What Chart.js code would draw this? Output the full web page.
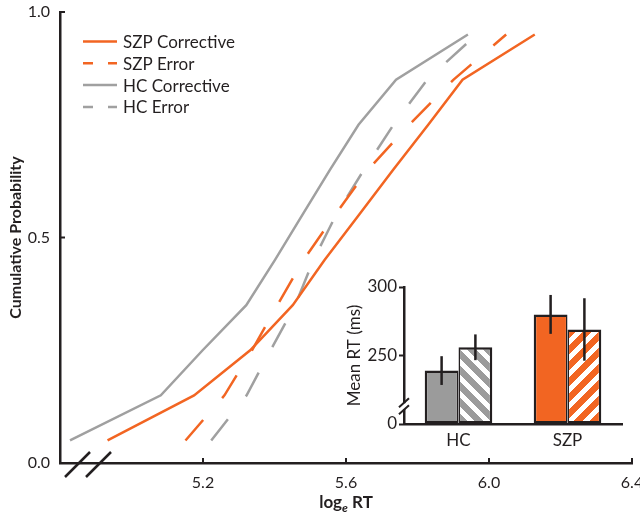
<!DOCTYPE html>
<html>
<head>
<meta charset="utf-8">
<title>Cumulative RT distributions</title>
<script src="https://cdn.jsdelivr.net/npm/chart.js@4.4.1/dist/chart.umd.min.js"></script>
<style>
  body { margin: 0; background: #fff; }
  #wrap { position: relative; width: 640px; height: 522px; }
  #mainChart { position: absolute; left: 0; top: 0; }
  #insetChart { position: absolute; left: 340px; top: 270px; }
</style>
</head>
<body>
<div id="wrap">
  <canvas id="mainChart" width="640" height="522"></canvas>
  <canvas id="insetChart" width="290" height="185"></canvas>
</div>
<script>
// cumulative probability levels
const probs = [0.05, 0.15, 0.25, 0.35, 0.45, 0.55, 0.65, 0.75, 0.85, 0.95];
// log_e RT at each level
const szpCorrective = [4.933, 5.175, 5.332, 5.451, 5.540, 5.636, 5.732, 5.830, 5.926, 6.128];
const szpError      = [5.151, 5.260, 5.337, 5.408, 5.481, 5.569, 5.661, 5.777, 5.901, 6.048];
const hcCorrective  = [4.828, 5.082, 5.199, 5.321, 5.401, 5.478, 5.555, 5.635, 5.740, 5.941];
const hcError       = [5.223, 5.322, 5.389, 5.458, 5.509, 5.572, 5.650, 5.733, 5.827, 5.965];

const xTicks = [5.2, 5.6, 6.0, 6.4];
const yTicks = [0, 0.5, 1.0];

// inset: mean RT in ms, with error bar half-lengths
const groups = ['HC', 'SZP'];
const correctiveRT  = [239, 280];
const correctiveErr = [10.5, 14.2];
const errorRT       = [256, 269];
const errorErr      = [9.4, 22.8];
// the axis is broken below 250, its bottom is labelled 0
const rtTicks = [200, 250, 300];
const rtTickLabels = ['0', '250', '300'];

const ORANGE = '#f26522';
const GRAY = '#a0a0a0';
const BAR_GRAY = '#9b9b9b';
const INK = '#231f20';
const FAMILY = 'Lato, "Open Sans", sans-serif';

// legend drawn inside the plot, top left
const insideLegend = {
  id: 'insideLegend',
  afterDraw(chart) {
    const ctx = chart.ctx;
    const a = chart.chartArea;
    ctx.save();
    ctx.font = '17px ' + FAMILY;
    ctx.textBaseline = 'middle';
    chart.data.datasets.forEach((ds, i) => {
      const y = a.top + 29.5 + i * 21.8;
      const x0 = a.left + 23;
      ctx.strokeStyle = ds.borderColor;
      ctx.lineWidth = 2.5;
      ctx.setLineDash(ds.borderDash.length ? [10, 15] : []);
      ctx.beginPath();
      ctx.moveTo(x0, y);
      ctx.lineTo(x0 + 34, y);
      ctx.stroke();
      ctx.setLineDash([]);
      ctx.fillStyle = INK;
      ctx.fillText(ds.label, x0 + 40, y + 1);
    });
    ctx.restore();
  }
};

// inward ticks, axis break and the x title with its subscript
const mainDecor = {
  id: 'mainDecor',
  afterDraw(chart) {
    const {ctx, chartArea: a, scales: {x, y}} = chart;
    const line = (x1, y1, x2, y2) => {
      ctx.beginPath(); ctx.moveTo(x1, y1); ctx.lineTo(x2, y2); ctx.stroke();
    };
    ctx.save();
    ctx.strokeStyle = INK;
    ctx.lineWidth = 2;
    x.ticks.forEach(t => { const px = x.getPixelForValue(t.value); line(px, a.bottom, px, a.bottom - 5); });
    y.ticks.forEach(t => { const py = y.getPixelForValue(t.value); line(a.left, py, a.left + 5, py); });

    ctx.lineWidth = 2.5;
    [0, 21].forEach(dx => line(a.left + 5 + dx, a.bottom + 14, a.left + 30 + dx, a.bottom - 11));

    const big = 'bold 17px ' + FAMILY;
    const sub = 'italic bold 12px ' + FAMILY;
    ctx.fillStyle = INK;
    ctx.textBaseline = 'alphabetic';
    ctx.font = big;
    const w1 = ctx.measureText('log').width;
    const w3 = ctx.measureText(' RT').width;
    ctx.font = sub;
    const w2 = ctx.measureText('e').width;
    let cx = (a.left + a.right) / 2 - (w1 + w2 + w3) / 2;
    const base = a.bottom + 45;
    ctx.font = big; ctx.fillText('log', cx, base); cx += w1;
    ctx.font = sub; ctx.fillText('e', cx, base + 4); cx += w2;
    ctx.font = big; ctx.fillText(' RT', cx, base);
    ctx.restore();
  }
};

const lineSets = [
  { label: 'SZP Corrective', values: szpCorrective, color: ORANGE, dash: [] },
  { label: 'SZP Error',      values: szpError,      color: ORANGE, dash: [27, 29] },
  { label: 'HC Corrective',  values: hcCorrective,  color: GRAY,   dash: [] },
  { label: 'HC Error',       values: hcError,       color: GRAY,   dash: [27, 29] }
];

new Chart(document.getElementById('mainChart'), {
  type: 'line',
  data: {
    datasets: lineSets.map(s => ({
      label: s.label,
      data: s.values.map((v, i) => ({ x: v, y: probs[i] })),
      borderColor: s.color,
      borderWidth: 2.5,
      borderDash: s.dash,
      borderCapStyle: 'butt',
      pointRadius: 0,
      tension: 0,
      fill: false
    }))
  },
  options: {
    responsive: false,
    animation: false,
    layout: { padding: { top: 12, right: 8, left: 0, bottom: 0 } },
    plugins: { legend: { display: false }, tooltip: { enabled: false } },
    scales: {
      x: {
        type: 'linear', min: 4.8, max: 6.4,
        grid: { display: false, drawTicks: false },
        border: { color: INK, width: 2.5 },
        afterBuildTicks: s => { s.ticks = xTicks.map(v => ({ value: v })); },
        afterFit: s => { s.height = 59; s.paddingLeft = 0; s.paddingRight = 0; },
        ticks: { padding: 10, color: INK, font: { family: FAMILY, size: 16 },
                 maxRotation: 0, autoSkip: false, callback: v => Number(v).toFixed(1) }
      },
      y: {
        min: 0, max: 1,
        grid: { display: false, drawTicks: false },
        border: { color: INK, width: 2.5 },
        afterBuildTicks: s => { s.ticks = yTicks.map(v => ({ value: v })); },
        afterFit: s => { s.width = 60; s.paddingTop = 0; s.paddingBottom = 0; },
        ticks: { padding: 10, color: INK, font: { family: FAMILY, size: 16 },
                 callback: v => Number(v).toFixed(1) },
        title: { display: true, text: 'Cumulative Probability', color: INK,
                 font: { family: FAMILY, size: 16, weight: 'bold' }, padding: { top: 6, bottom: 0 } }
      }
    }
  },
  plugins: [insideLegend, mainDecor]
});

// striped fill for the error bars, built pixel by pixel so the tile repeats cleanly
function hatch(color, dir) {
  const s = 16, w = 9;
  const c = document.createElement('canvas');
  c.width = s; c.height = s;
  const g = c.getContext('2d');
  g.fillStyle = '#fff';
  g.fillRect(0, 0, s, s);
  g.fillStyle = color;
  for (let py = 0; py < s; py++) {
    for (let px = 0; px < s; px++) {
      const d = dir > 0 ? (px + py) % s : ((px - py) % s + s) % s;
      if (d < w) g.fillRect(px, py, 1, 1);
    }
  }
  return g.createPattern(c, 'repeat');
}

const errorBars = {
  id: 'errorBars',
  afterDatasetsDraw(chart) {
    const {ctx, scales: {y}} = chart;
    ctx.save();
    ctx.strokeStyle = INK;
    ctx.lineWidth = 2.5;
    chart.data.datasets.forEach((ds, i) => {
      chart.getDatasetMeta(i).data.forEach((bar, j) => {
        const m = ds.data[j], e = ds.err[j];
        ctx.beginPath();
        ctx.moveTo(bar.x, y.getPixelForValue(m - e));
        ctx.lineTo(bar.x, y.getPixelForValue(m + e));
        ctx.stroke();
      });
    });
    ctx.restore();
  }
};

const insetBreak = {
  id: 'insetBreak',
  afterDraw(chart) {
    const {ctx, chartArea: a, scales: {y}} = chart;
    const py = y.getPixelForValue(213);
    ctx.save();
    ctx.fillStyle = '#fff';
    ctx.fillRect(a.left - 3, py - 3, 6, 6);
    ctx.strokeStyle = INK;
    ctx.lineWidth = 2;
    [-3.5, 3.5].forEach(d => {
      ctx.beginPath();
      ctx.moveTo(a.left - 5, py + d + 4.5);
      ctx.lineTo(a.left + 5, py + d - 4.5);
      ctx.stroke();
    });
    ctx.restore();
  }
};

new Chart(document.getElementById('insetChart'), {
  type: 'bar',
  data: {
    labels: groups,
    datasets: [
      { label: 'Corrective', data: correctiveRT, err: correctiveErr, base: 200,
        backgroundColor: [BAR_GRAY, ORANGE],
        borderWidth: { top: 2.5, left: 2.5, bottom: 2.5, right: 1.6 } },
      { label: 'Error', data: errorRT, err: errorErr, base: 200,
        backgroundColor: [hatch(BAR_GRAY, -1), hatch(ORANGE, 1)],
        borderWidth: { top: 2.5, left: 1.6, bottom: 2.5, right: 2.5 } }
    ]
  },
  options: {
    responsive: false,
    animation: false,
    layout: { padding: { top: 17, right: 8, left: 0, bottom: 0 } },
    datasets: { bar: { borderColor: INK, borderSkipped: false, categoryPercentage: 0.62, barPercentage: 1 } },
    plugins: { legend: { display: false }, tooltip: { enabled: false } },
    scales: {
      x: {
        grid: { display: false, drawTicks: false },
        border: { color: INK, width: 2.5 },
        afterFit: s => { s.height = 31; s.paddingLeft = 0; s.paddingRight = 0; },
        ticks: { padding: 6, color: INK, font: { family: FAMILY, size: 17 } }
      },
      y: {
        min: 200, max: 300,
        afterBuildTicks: s => { s.ticks = rtTicks.map(v => ({ value: v })); },
        afterFit: s => { s.width = 64; s.paddingTop = 0; s.paddingBottom = 0; },
        grid: { drawOnChartArea: false, tickLength: 5, tickWidth: 2, tickColor: INK },
        border: { color: INK, width: 2.5 },
        ticks: { padding: 2, color: INK, font: { family: FAMILY, size: 17 },
                 callback: v => rtTickLabels[rtTicks.indexOf(v)] },
        title: { display: true, text: 'Mean RT (ms)', color: INK,
                 font: { family: FAMILY, size: 17 }, padding: { top: 4, bottom: 0 } }
      }
    }
  },
  plugins: [errorBars, insetBreak]
});
</script>
</body>
</html>
